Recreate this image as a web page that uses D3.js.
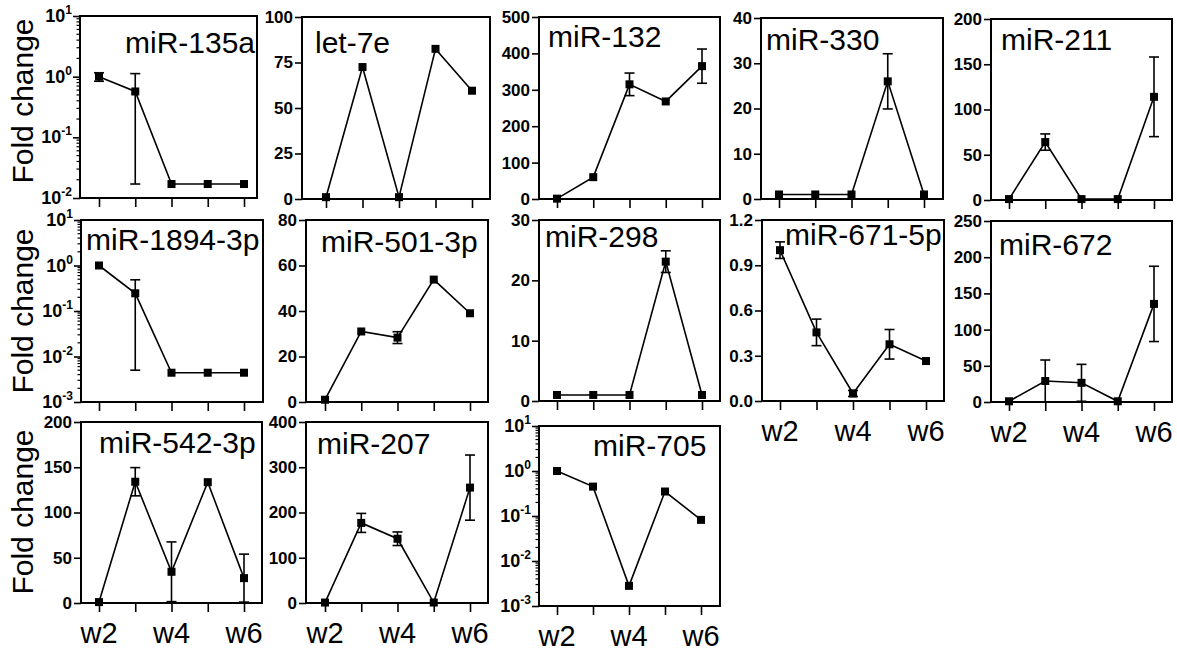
<!DOCTYPE html>
<html>
<head>
<meta charset="utf-8">
<script src="https://cdn.jsdelivr.net/npm/d3@7"></script>
<style>
  body { margin: 0; background: #fff; }
  text { font-family: "Liberation Sans", Arial, sans-serif; }
</style>
</head>
<body>
<script>
// data
var names = ["miR-135a", "let-7e", "miR-132", "miR-330", "miR-211",
             "miR-1894-3p", "miR-501-3p", "miR-298", "miR-671-5p", "miR-672",
             "miR-542-3p", "miR-207", "miR-705"]
var weeks = ["w2", "w3", "w4", "w5", "w6"]
var weekLabels = ["w2", "", "w4", "", "w6"]

var means = [
    [1.0, 0.57, 0.017, 0.017, 0.017],
    [1, 72.5, 1, 82.5, 59.5],
    [1, 60, 315, 268, 365],
    [1, 1, 1, 26, 1],
    [1, 64, 1, 1, 114],
    [1.0, 0.245, 0.0044, 0.0044, 0.0044],
    [1, 31, 28.3, 53.8, 39],
    [1, 1, 1, 23.1, 1],
    [1.0, 0.455, 0.05, 0.376, 0.265],
    [1, 29, 26.5, 1, 135.5],
    [1, 134, 34.5, 133.5, 27.5],
    [1, 177, 142, 1, 255],
    [1.0, 0.45, 0.0028, 0.35, 0.082]
]
var sds = [
    [0.16, 0.553, 0, 0, 0],
    [0, 0, 0, 0, 0],
    [0, 0, 31, 0, 47],
    [0, 0, 0, 6.1, 0],
    [0, 9, 0, 0, 44],
    [0, 0.24, 0, 0, 0],
    [0, 0, 2.6, 0, 0],
    [0, 0, 0, 1.8, 0],
    [0.055, 0.088, 0.02, 0.098, 0],
    [0, 29, 25.5, 0, 52],
    [0, 15.6, 33, 0, 26.5],
    [0, 21, 15, 0, 72],
    [0, 0, 0, 0, 0]
]
var isLog = [true, false, false, false, false, true, false, false, false, false, false, false, true]
var yMin = [0.01, 0, 0, 0, 0, 0.001, 0, 0, 0, 0, 0, 0, 0.001]
var yMax = [10, 100, 500, 40, 200, 10, 80, 30, 1.2, 250, 200, 400, 10]
var yStep = [null, 25, 100, 10, 50, null, 20, 10, 0.3, 50, 50, 100, null]
var showWeeks = [false, false, false, false, false, false, false, false, true, true, true, true, true]

// layout: box [left, right, top, bottom], x range of first/last tick, title start + baseline
var boxes = [
    [80, 257, 16, 198], [302, 490, 17, 199], [539, 720, 17, 199], [761, 943, 18, 199], [991, 1172, 19, 200],
    [81, 263, 220, 402], [306, 488, 220, 402], [539, 720, 220, 401], [762, 944, 220, 401], [991, 1172, 221, 402],
    [81, 262, 422, 603], [306, 488, 422, 603], [539, 720, 426, 606]
]
var xRanges = [
    [99, 244], [326, 472], [557, 702], [779, 924], [1009, 1154],
    [99, 244], [325, 470], [557, 702], [780, 926], [1009, 1154],
    [99, 244], [325, 470], [557, 701]
]
var titlePos = [
    [125, 53], [315, 53], [548, 47], [766, 50], [1001, 50],
    [86, 250], [321, 252], [545, 247], [785, 245], [999, 255],
    [99, 453], [317, 454], [593, 456]
]
var rowLabelY = [101, 311, 512]

var svg = d3.select("body").append("svg")
    .attr("width", 1177)
    .attr("height", 653)

rowLabelY.forEach(function(cy){
    svg.append("text")
        .attr("transform", "translate(33," + cy + ") rotate(-90)")
        .attr("text-anchor", "middle")
        .style("font-size", "30px")
        .text("Fold change")
})

names.forEach(function(name, i){
    var b = boxes[i]
    var g = svg.append("g")

    var xScale = d3.scalePoint()
        .domain(weeks)
        .range(xRanges[i])

    var yScale = isLog[i]
        ? d3.scaleLog().domain([yMin[i], yMax[i]]).range([b[3], b[2]])
        : d3.scaleLinear().domain([yMin[i], yMax[i]]).range([b[3], b[2]])

    // y axis
    var yAxisGen = d3.axisLeft(yScale).tickSizeOuter(0).tickSize(7).tickPadding(2)
    if(isLog[i]){
        var majors = []
        for(var e = Math.round(Math.log10(yMin[i])); e <= Math.round(Math.log10(yMax[i])); e++) majors.push(Math.pow(10, e))
        yAxisGen.tickValues(majors).tickFormat(function(){ return "" })
        // minor ticks
        var minors = []
        majors.slice(0, -1).forEach(function(m){
            for(var k = 2; k <= 9; k++) minors.push(m * k)
        })
        g.append("g")
            .selectAll("line")
            .data(minors)
            .enter()
            .append("line")
            .attr("x1", b[0] - 3.5)
            .attr("x2", b[0])
            .attr("y1", d => yScale(d))
            .attr("y2", d => yScale(d))
            .attr("stroke", "black")
            .attr("stroke-width", 1.2)
        var labs = g.append("g")
            .selectAll("text")
            .data(majors)
            .enter()
            .append("text")
            .attr("x", b[0] - 8)
            .attr("y", d => yScale(d) + 6)
            .attr("text-anchor", "end")
            .style("font-size", "18px")
            .style("font-weight", "bold")
        labs.append("tspan").text("10")
        labs.append("tspan")
            .attr("dy", -8)
            .style("font-size", "12px")
            .text(d => Math.round(Math.log10(d)))
    }else{
        yAxisGen.tickValues(d3.range(yMin[i], yMax[i] + yStep[i] / 2, yStep[i]))
            .tickFormat(yStep[i] < 1 ? d3.format(".1f") : d3.format("d"))
    }
    var yAxis = g.append("g")
        .attr("transform", "translate(" + b[0] + ",0)")
        .call(yAxisGen)
    yAxis.select(".domain").remove()
    yAxis.selectAll("line").attr("stroke-width", 1.6)
    yAxis.selectAll("text")
        .style("font-size", "17px")
        .style("font-weight", "bold")
        .style("font-family", "Liberation Sans, Arial, sans-serif")

    // x axis
    var xAxis = g.append("g")
        .attr("transform", "translate(0," + b[3] + ")")
        .call(d3.axisBottom(xScale).tickSizeOuter(0).tickSize(9).tickFormat(function(d, k){ return "" }))
    xAxis.select(".domain").remove()
    xAxis.selectAll("line").attr("stroke-width", 1.6)

    if(showWeeks[i]){
        g.append("g")
            .selectAll("text")
            .data(weeks)
            .enter()
            .append("text")
            .attr("x", d => xScale(d))
            .attr("y", b[3] + 40)
            .attr("text-anchor", "middle")
            .style("font-size", "29px")
            .text((d, k) => weekLabels[k])
    }

    // frame
    g.append("rect")
        .attr("x", b[0])
        .attr("y", b[2])
        .attr("width", b[1] - b[0])
        .attr("height", b[3] - b[2])
        .attr("fill", "none")
        .attr("stroke", "black")
        .attr("stroke-width", 2)

    // title
    g.append("text")
        .attr("x", titlePos[i][0])
        .attr("y", titlePos[i][1])
        .style("font-size", "30px")
        .text(name)

    var pts = weeks.map(function(w, k){ return {w: w, m: means[i][k], s: sds[i][k]} })

    // line
    var lineGen = d3.line()
        .x(d => xScale(d.w))
        .y(d => yScale(d.m))
    g.append("path")
        .datum(pts)
        .attr("d", lineGen)
        .attr("fill", "none")
        .attr("stroke", "black")
        .attr("stroke-width", 1.6)

    // error bars
    var eb = g.append("g")
        .selectAll("g")
        .data(pts.filter(d => d.s > 0))
        .enter()
        .append("g")
        .attr("stroke", "black")
        .attr("stroke-width", 1.6)
    var lo = d => yScale(Math.max(d.m - d.s, yMin[i] || 0))
    var hi = d => yScale(d.m + d.s)
    eb.append("line")
        .attr("x1", d => xScale(d.w)).attr("x2", d => xScale(d.w))
        .attr("y1", lo).attr("y2", hi)
    eb.append("line")
        .attr("x1", d => xScale(d.w) - 5).attr("x2", d => xScale(d.w) + 5)
        .attr("y1", hi).attr("y2", hi)
    eb.append("line")
        .attr("x1", d => xScale(d.w) - 5).attr("x2", d => xScale(d.w) + 5)
        .attr("y1", lo).attr("y2", lo)

    // markers
    g.append("g")
        .selectAll("rect")
        .data(pts)
        .enter()
        .append("rect")
        .attr("x", d => xScale(d.w) - 4)
        .attr("y", d => yScale(d.m) - 4)
        .attr("width", 8)
        .attr("height", 8)
        .attr("fill", "black")
})
</script>
</body>
</html>
